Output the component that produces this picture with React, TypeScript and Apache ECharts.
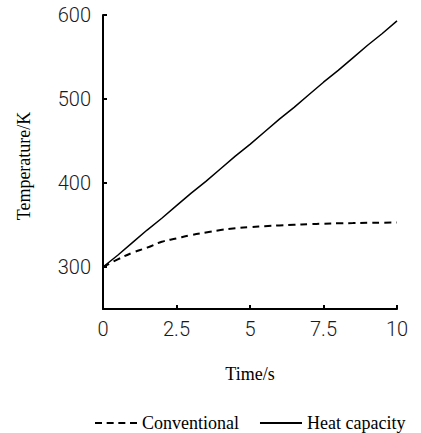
import React, { useEffect, useRef } from "react";
import * as echarts from "echarts";

const times = [0, 0.5, 1, 1.5, 2, 2.5, 3, 3.5, 4, 4.5, 5, 5.5, 6, 6.5, 7, 7.5, 8, 8.5, 9, 9.5, 10];
const conventional = [300, 309, 317, 323, 330, 334, 338, 341, 344, 346, 347.5, 348.5, 349.5, 350.3, 351, 351.6, 352, 352.3, 352.6, 352.8, 353];
const heatCapacity = [300, 314, 329, 344, 358, 373, 388, 402, 417, 432, 446, 461, 476, 490, 505, 520, 534, 549, 564, 578, 593];
const yTicks = [300, 400, 500, 600];
const xTicks = [0, 2.5, 5, 7.5, 10];
const yTitle = "Temperature/K";
const xTitle = "Time/s";

const numFont = "Roboto, 'Liberation Sans', sans-serif";
const serif = "'Liberation Serif', 'Times New Roman', serif";

const dashedIcon = "path://M0,0h7v2h-7z M11.67,0h7v2h-7z M23.33,0h7v2h-7z M35,0h7v2h-7z";
const solidIcon = "path://M0,0h42v2h-42z";

export default function App() {
  const ref = useRef<HTMLDivElement>(null);
  useEffect(() => {
    if (!ref.current) return;
    const chart = echarts.init(ref.current, undefined, { renderer: "svg" });
    chart.setOption({
      animation: false,
      backgroundColor: "#fff",
      grid: { left: 103, right: 24, top: 15, bottom: 124, containLabel: false },
      legend: {
        left: 90,
        top: 409,
        itemWidth: 42,
        itemHeight: 2,
        itemGap: 21,
        textStyle: { fontFamily: serif, fontSize: 18, color: "#000" },
        data: [
          { name: "Conventional", icon: dashedIcon, itemStyle: { color: "#000", borderWidth: 0 } },
          { name: "Heat capacity", icon: solidIcon, itemStyle: { color: "#000", borderWidth: 0 } },
        ],
      },
      graphic: [
        {
          type: "text",
          x: 24,
          y: 166,
          rotation: Math.PI / 2,
          style: {
            text: yTitle,
            fontFamily: serif,
            fontSize: 18,
            fill: "#000",
            textAlign: "center",
            textVerticalAlign: "middle",
          },
        },
      ],
      xAxis: {
        type: "value",
        min: 0,
        max: 10,
        interval: 2.5,
        name: xTitle,
        nameLocation: "middle",
        nameGap: 56,
        nameTextStyle: { fontFamily: serif, fontSize: 18, color: "#000" },
        axisLine: { lineStyle: { color: "#000", width: 2 } },
        axisTick: { show: true, inside: true, length: 4, lineStyle: { color: "#000", width: 2 }, customValues: xTicks },
        axisLabel: {
          margin: 10,
          fontFamily: numFont,
          fontWeight: 300,
          fontSize: 20,
          color: "#1a1a1a",
          customValues: xTicks,
          formatter: (v: number) => String(v),
        },
        splitLine: { show: false },
      },
      yAxis: {
        type: "value",
        min: 250,
        max: 600,
        axisLine: { show: true, lineStyle: { color: "#000", width: 2 } },
        axisTick: { show: true, inside: true, length: 4, lineStyle: { color: "#000", width: 2 }, customValues: yTicks },
        axisLabel: {
          margin: 12,
          fontFamily: numFont,
          fontWeight: 300,
          fontSize: 20,
          color: "#1a1a1a",
          customValues: yTicks,
        },
        splitLine: { show: false },
      },
      series: [
        {
          name: "Conventional",
          type: "line",
          data: times.map((t, i) => [t, conventional[i]]),
          showSymbol: false,
          symbol: "none",
          smooth: true,
          lineStyle: { color: "#000", width: 2, type: [7, 5] },
          itemStyle: { color: "#000" },
        },
        {
          name: "Heat capacity",
          type: "line",
          data: times.map((t, i) => [t, heatCapacity[i]]),
          showSymbol: false,
          symbol: "none",
          lineStyle: { color: "#000", width: 1.5 },
          itemStyle: { color: "#000" },
        },
      ],
    });
    return () => chart.dispose();
  }, []);
  return <div ref={ref} style={{ width: 421, height: 433, position: "absolute", left: 0, top: 0 }} />;
}
